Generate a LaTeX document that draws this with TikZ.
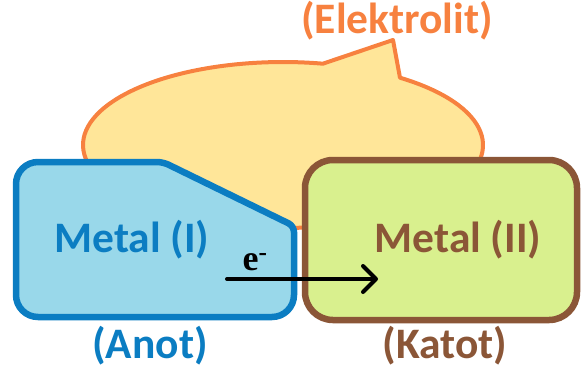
\documentclass[tikz,border=0pt]{standalone}
\usepackage{fontspec}
\setmainfont{Carlito}
\newfontfamily\serifel{Liberation Serif}
\usetikzlibrary{arrows.meta}

\definecolor{elfill}{HTML}{FFE699}
\definecolor{elline}{HTML}{F7813F}
\definecolor{anfill}{HTML}{99D8EA}
\definecolor{anline}{HTML}{0B7DC2}
\definecolor{katfill}{HTML}{D9F08E}
\definecolor{katline}{HTML}{8B5637}

\tikzset{
  label43/.style={anchor=base, inner sep=0pt, font=\fontsize{43.5}{50}\selectfont\bfseries},
  flow/.style={line width=4pt, line cap=round,
    -{Straight Barb[length=13pt, width=26pt, line width=4pt, round]}},
}

\begin{document}
\begin{tikzpicture}[x=1pt, y=-1pt]
  \useasboundingbox (0,0) rectangle (581,376);

  % electrolyte: ellipse with a callout tail at the top
  \filldraw[fill=elfill, draw=elline, line width=4pt, line join=round]
    (400,77.7) arc[start angle=-54.2, end angle=281.5, x radius=200, y radius=83]
    -- (393,40) -- cycle;
  \node[label43, text=elline] (elektrolit) at (397,33) {(Elektrolit)};

  % anode: rounded box with a cut top-right corner
  \filldraw[fill=anfill, draw=anline, line width=6.5pt, line join=round]
    [rounded corners=22pt] (16,240) -- (16,162)
    [rounded corners=6pt] -- (163,162) -- (294,226)
    [rounded corners=22pt] -- (294,317) -- (16,317) -- (16,240);

  % cathode
  \filldraw[fill=katfill, draw=katline, line width=6.5pt, rounded corners=28pt]
    (305,160) rectangle (577,320);

  \node[label43, text=anline] (metal1) at (132,252) {Metal (I)};
  \node[label43, text=katline] (metal2) at (458,252) {Metal (II)};
  \node[label43, text=anline] (anot) at (150,358) {(Anot)};
  \node[label43, text=katline] (katot) at (445,358) {(Katot)};

  % electron flow
  \node[anchor=base, inner sep=0pt, font=\serifel\fontsize{36}{40}\selectfont\bfseries]
    (elec) at (255,270) {e\textsuperscript{-}};
  \coordinate (from) at (227,279);
  \coordinate (to) at (378,279);
  \draw[flow] (from) -- (to);
\end{tikzpicture}
\end{document}
